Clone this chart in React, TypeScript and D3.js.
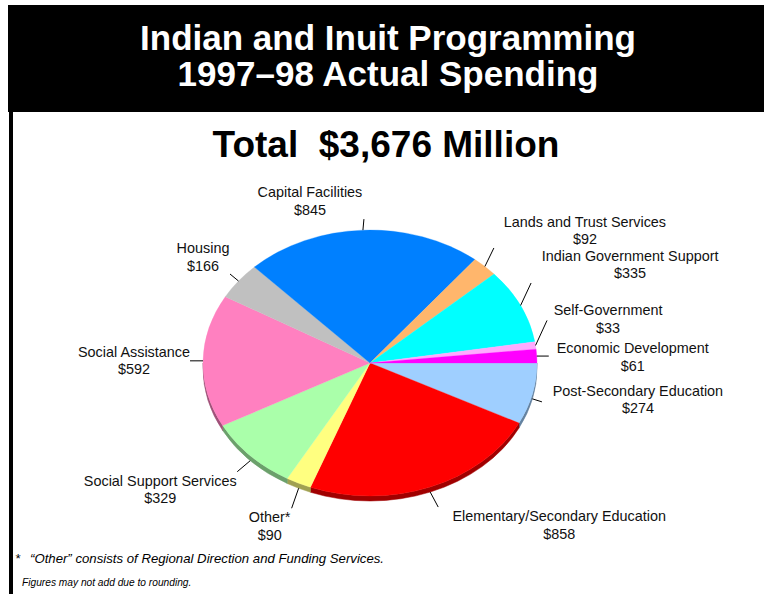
import React from 'react';
import * as d3 from 'd3';

// slices in drawing order, clockwise starting at 3 o'clock
const categories = [
  'Post-Secondary Education',
  'Elementary/Secondary Education',
  'Other*',
  'Social Support Services',
  'Social Assistance',
  'Housing',
  'Capital Facilities',
  'Lands and Trust Services',
  'Indian Government Support',
  'Self-Government',
  'Economic Development',
];
const spending = [274, 858, 90, 329, 592, 166, 845, 92, 335, 33, 61];
const sliceColors = [
  '#9fcfff', '#ff0000', '#ffff80', '#aaffaa', '#ff80c0', '#c0c0c0',
  '#0080ff', '#ffb66c', '#00ffff', '#ffaaff', '#ff00ff',
];

const titleLines = ['Indian and Inuit Programming', '1997\u201398 Actual Spending'];
const subtitle = 'Total  $3,676 Million';
const footnote = '\u201COther\u201D consists of Regional Direction and Funding Services.';
const note = 'Figures may not add due to rounding.';

const W = 764;
const H = 594;
const FONT = '"Liberation Sans", Arial, Helvetica, sans-serif';

// leader end offset from the rim point, then label centre offset from leader end
const labelLayout: { lx: number; ly: number; tx: number; ty: number }[] = [
  { lx: 9.5, ly: 8, tx: 96, ty: -6 },
  { lx: 8, ly: 20, tx: 121, ty: 14 },
  { lx: -7, ly: 25, tx: -22, ty: 14 },
  { lx: -13, ly: 16, tx: -77, ty: 14 },
  { lx: -13, ly: 0, tx: -56, ty: -4 },
  { lx: -8.5, ly: -7, tx: -27, ty: -21 },
  { lx: 1, ly: -11, tx: -54, ty: -22 },
  { lx: 9, ly: -18.5, tx: 91, ty: -21 },
  { lx: 10.5, ly: -22.5, tx: 99, ty: -22 },
  { lx: 11.5, ly: -25, tx: 61, ty: -5 },
  { lx: 12, ly: 0, tx: 84, ty: -3 },
];

const App: React.FC = () => {
  const cx = 370;
  const cy = 363;
  const rx = 167;
  const ry = 133;
  const depth = 5;

  const pie = d3
    .pie<number>()
    .sort(null)
    .startAngle(Math.PI / 2)
    .endAngle(Math.PI / 2 + 2 * Math.PI);
  const arcs = pie(spending);

  const pt = (a: number, dy = 0): [number, number] => [cx + rx * Math.sin(a), cy - ry * Math.cos(a) + dy];
  const f = (p: [number, number]) => `${p[0].toFixed(2)},${p[1].toFixed(2)}`;

  const topPath = (a0: number, a1: number) => {
    const large = a1 - a0 > Math.PI ? 1 : 0;
    return `M${cx},${cy}L${f(pt(a0))}A${rx},${ry} 0 ${large} 1 ${f(pt(a1))}Z`;
  };

  const sidePath = (a0: number, a1: number) => {
    const s = Math.max(a0, Math.PI / 2);
    const e = Math.min(a1, (3 * Math.PI) / 2);
    if (e <= s) return null;
    return `M${f(pt(s))}A${rx},${ry} 0 0 1 ${f(pt(e))}L${f(pt(e, depth))}A${rx},${ry} 0 0 0 ${f(pt(s, depth))}Z`;
  };

  return (
    <div style={{ position: 'absolute', left: 0, top: 0, width: W, height: H }}>
      <svg width={W} height={H} style={{ display: 'block', background: '#fff' }}>
        {/* header band + left rule */}
        <rect x={8} y={5} width={W - 8} height={107} fill="#000" />
        <rect x={9} y={112} width={4} height={H - 112} fill="#000" />
        {titleLines.map((t, i) => (
          <text key={t} x={388} y={50 + i * 36} textAnchor="middle" fontFamily={FONT}
            fontWeight="bold" fontSize={35} fill="#fff">{t}</text>
        ))}
        <text x={386} y={157} textAnchor="middle" fontFamily={FONT} fontWeight="bold"
          fontSize={37} fill="#000" style={{ whiteSpace: 'pre' }}>{subtitle}</text>

        {/* pie sides */}
        {arcs.map((d, i) => {
          const p = sidePath(d.startAngle, d.endAngle);
          if (!p) return null;
          const c = d3.color(sliceColors[i])!.darker(1.3).formatHex();
          return <path key={'s' + i} d={p} fill={c} stroke={c} strokeWidth={0.5} />;
        })}
        {/* pie tops */}
        {arcs.map((d, i) => (
          <path key={'t' + i} d={topPath(d.startAngle, d.endAngle)} fill={sliceColors[i]}
            stroke={sliceColors[i]} strokeWidth={0.3} />
        ))}

        {/* labels */}
        {arcs.map((d, i) => {
          const mid = (d.startAngle + d.endAngle) / 2;
          const rim = pt(mid);
          const front = Math.cos(mid) < -0.05;
          const start: [number, number] = [rim[0], rim[1] + (front ? depth : 0)];
          const L = labelLayout[i];
          const end: [number, number] = [rim[0] + L.lx, rim[1] + L.ly];
          const tx = end[0] + L.tx;
          const ty = end[1] + L.ty;
          return (
            <g key={'l' + i}>
              <line x1={start[0]} y1={start[1]} x2={end[0]} y2={end[1]} stroke="#000" strokeWidth={1} />
              <text x={tx} y={ty} textAnchor="middle" fontFamily={FONT} fontSize={14.4} fill="#111">
                <tspan x={tx} dy={0}>{categories[i]}</tspan>
                <tspan x={tx} dy={17.5}>{'$' + d3.format(',')(spending[i])}</tspan>
              </text>
            </g>
          );
        })}

        <text x={15} y={563} fontFamily={FONT} fontStyle="italic" fontSize={13.2} fill="#000">*</text>
        <text x={30} y={563} fontFamily={FONT} fontStyle="italic" fontSize={13.2} fill="#000">{footnote}</text>
        <text x={22} y={586} fontFamily={FONT} fontStyle="italic" fontSize={10.2} fill="#000">{note}</text>
      </svg>
    </div>
  );
};

export default App;
